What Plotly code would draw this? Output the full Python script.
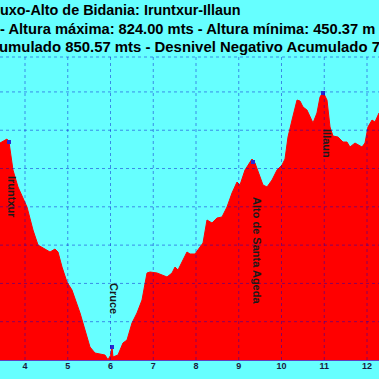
import plotly.graph_objects as go

# Profile data (distance in km, altitude in m)
dist_km = [3.415, 3.579, 3.626, 3.719, 3.836, 4.047, 4.187, 4.304, 4.585, 4.702, 4.772, 4.866,
           4.982, 5.099, 5.287, 5.404, 5.520, 5.637, 5.871, 5.942, 6.000, 6.035, 6.058, 6.175,
           6.292, 6.386, 6.503, 6.620, 6.737, 6.854, 6.924, 7.088, 7.322, 7.439, 7.509, 7.579,
           7.696, 7.789, 7.860, 7.977, 8.094, 8.164, 8.257, 8.374, 8.491, 8.608, 8.725, 8.842,
           8.959, 9.029, 9.146, 9.310, 9.380, 9.497, 9.567, 9.661, 9.778, 9.895, 10.012, 10.082,
           10.152, 10.246, 10.363, 10.433, 10.503, 10.596, 10.667, 10.737, 10.830, 10.901, 10.971,
           11.064, 11.135, 11.205, 11.322, 11.439, 11.532, 11.602, 11.719, 11.789, 11.883, 11.953,
           12.023, 12.117, 12.187, 12.281]
alt_m = [733.3, 738.5, 734.6, 698.0, 675.9, 649.7, 619.7, 600.1, 591.0, 594.9, 591.0, 571.4,
         551.8, 541.4, 511.4, 489.2, 467.0, 459.1, 456.5, 450.4, 456.0, 467.0, 453.9, 456.5,
         472.2, 476.1, 498.3, 511.4, 528.3, 563.6, 564.9, 563.6, 558.4, 563.6, 571.4, 567.5,
         580.6, 591.0, 588.4, 588.4, 597.5, 602.7, 632.8, 628.9, 635.4, 636.7, 649.7, 668.0,
         682.4, 678.5, 698.0, 712.4, 707.2, 688.9, 678.5, 675.9, 685.0, 698.0, 704.6, 712.4,
         741.1, 763.3, 789.4, 788.1, 780.3, 776.4, 767.2, 759.4, 772.5, 793.3, 799.9,
         789.4, 754.2, 742.4, 741.1, 734.6, 734.6, 728.1, 733.3, 730.7, 728.1, 733.3,
         754.2, 763.3, 760.7, 772.5]

# Waypoints
wp_names = ["Iruntxur", "Cruce", "Alto de Santa Ageda", "Illaun"]
wp_km = [3.626, 6.035, 9.333, 10.971]
wp_alt = [734.6, 467.0, 708.5, 798.6]
wp_label_km = [3.696, 6.082, 9.427, 11.064]
wp_label_alt = [662.8, 530.9, 593.6, 732.0]

x_ticks = [4, 5, 6, 7, 8, 9, 10, 11, 12]
x_ticktext = [str(v) for v in x_ticks]
y_grid = [500, 550, 600, 650, 700, 750, 800]

title_lines = [
    "uxo-Alto de Bidania: Iruntxur-Illaun",
    "- Altura máxima: 824.00 mts - Altura mínima: 450.37 m",
    "umulado 850.57 mts - Desnivel Negativo Acumulado 7",
]

BG = "#66FFFF"
FONT = "Liberation Sans, Arial, sans-serif"

fig = go.Figure()
fig.add_trace(go.Scatter(x=dist_km, y=alt_m, mode="lines", fill="tozeroy",
                         fillcolor="#FF0000", line=dict(color="#FF0000", width=1),
                         hoverinfo="skip", showlegend=False))
fig.add_trace(go.Scatter(x=wp_km, y=wp_alt, mode="markers",
                         marker=dict(color="#2A2AD0", size=4, symbol="square"),
                         showlegend=False))

shapes = []
for v in x_ticks:
    shapes.append(dict(type="line", xref="x", yref="paper", x0=v, x1=v, y0=0, y1=1,
                       line=dict(color="rgba(0,0,200,0.45)", width=1, dash="dot"), layer="above"))
for v in y_grid:
    shapes.append(dict(type="line", xref="paper", yref="y", x0=0, x1=1, y0=v, y1=v,
                       line=dict(color="rgba(0,0,200,0.45)", width=1, dash="dot"), layer="above"))
shapes.append(dict(type="line", xref="paper", yref="paper", x0=0, x1=1, y0=1, y1=1,
                   line=dict(color="rgba(0,0,200,0.45)", width=1, dash="dot"), layer="above"))

annotations = []
for name, kx, ky in zip(wp_names, wp_label_km, wp_label_alt):
    annotations.append(dict(x=kx, y=ky, xref="x", yref="y", text=name, textangle=90,
                            showarrow=False, xanchor="center", yanchor="middle",
                            font=dict(family=FONT, size=11, color="#1a1a1a", weight="bold")))

top, bottom = 57, 360
def py(p):
    return (bottom - p) / (bottom - top)

title_pos = [(-2, 10, 14.4), (-2, 29, 14.7), (-3, 47, 14.9)]
for txt, (px, pyy, fs) in zip(title_lines, title_pos):
    annotations.append(dict(x=px / 379, y=py(pyy), xref="paper", yref="paper", text=txt,
                            showarrow=False, xanchor="left", yanchor="middle",
                            font=dict(family=FONT, size=fs, color="#000000", weight="bold")))

fig.update_layout(
    width=379, height=379,
    margin=dict(l=0, r=0, t=57, b=19, pad=0),
    paper_bgcolor=BG, plot_bgcolor=BG,
    shapes=shapes, annotations=annotations,
    xaxis=dict(range=[3.4152, 12.2807], tickvals=x_ticks, ticktext=x_ticktext,
               showgrid=False, zeroline=False, ticks="", showline=True,
               linecolor="#6040C0", linewidth=1, ticklabelstandoff=-3,
               tickfont=dict(family=FONT, size=9, color="#1a1a40", weight="bold")),
    yaxis=dict(range=[450, 845.6], showgrid=False, zeroline=False,
               showticklabels=False, ticks=""),
)

fig.write_html("out.html", config={"displayModeBar": False},
               post_script="document.body.style.margin='0';document.body.style.overflow='hidden';")
